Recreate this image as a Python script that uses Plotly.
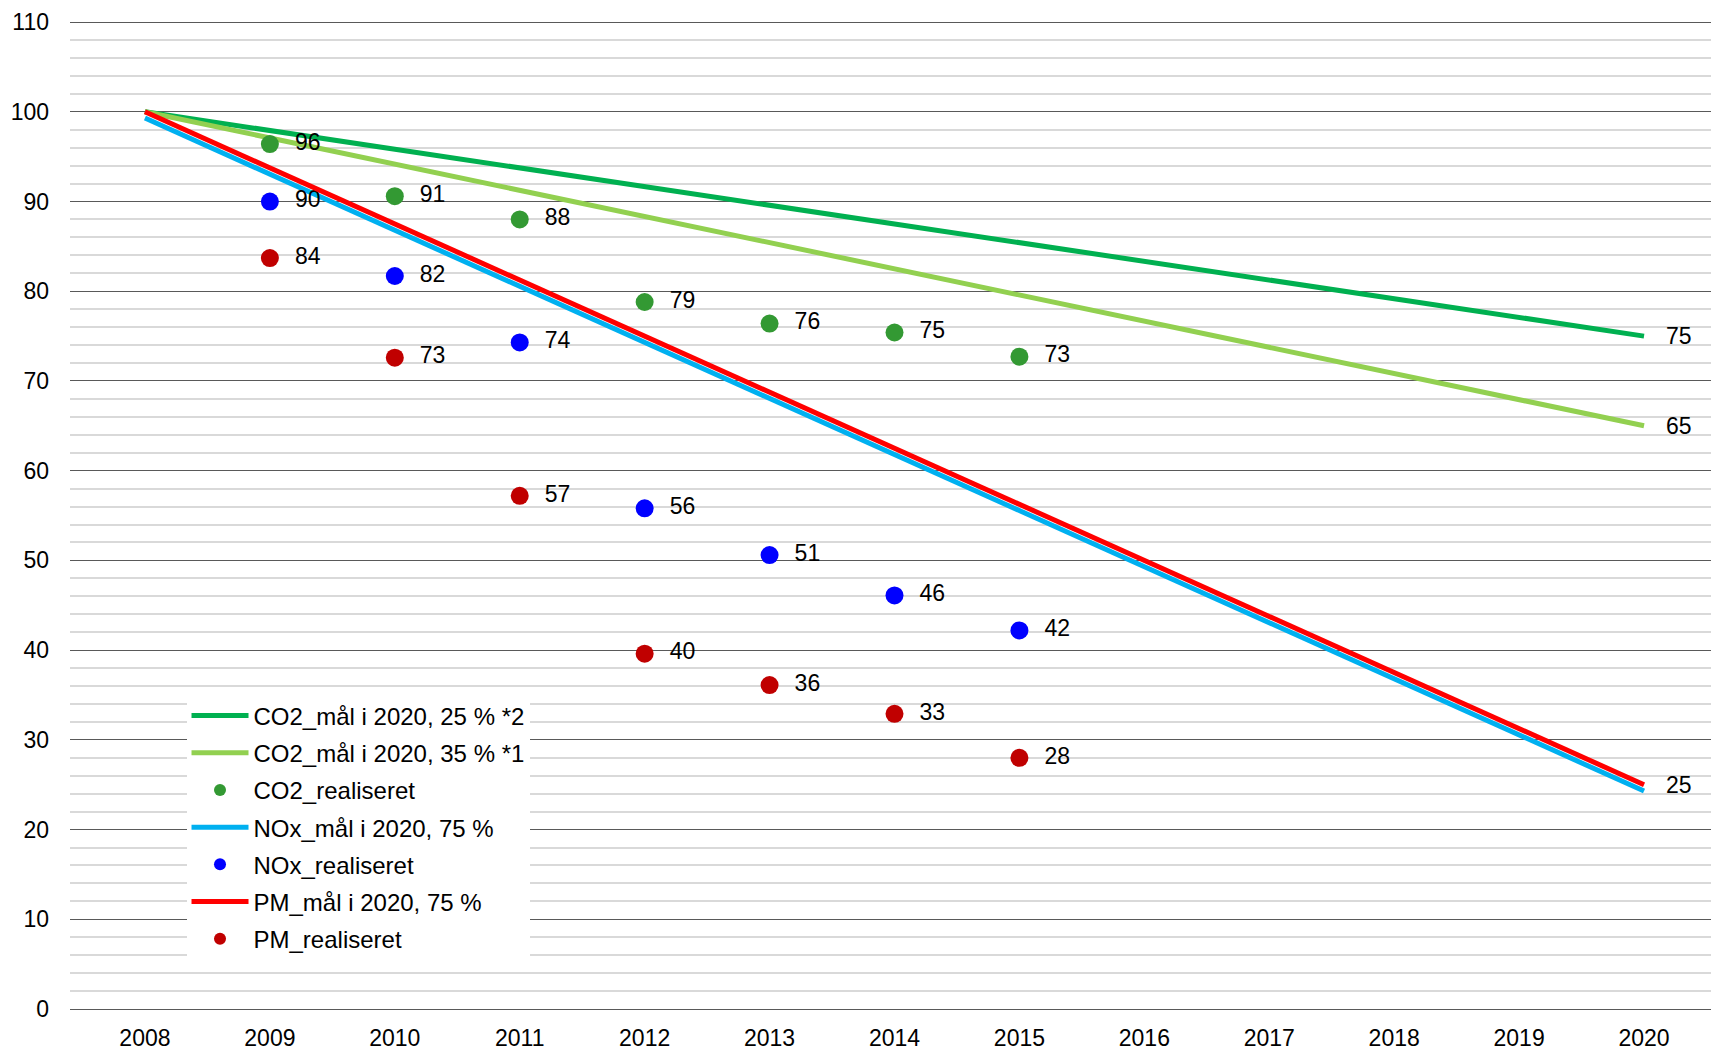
import plotly.graph_objects as go

# ---- data ----
target_years = [2008, 2020]
co2_goal_25 = [100, 75]
co2_goal_35 = [100, 65]
nox_goal = [99.3, 24.3]
pm_goal = [100, 25]

real_years = [2009, 2010, 2011, 2012, 2013, 2014, 2015]
co2_real = [96.4, 90.6, 88.0, 78.8, 76.4, 75.4, 72.7]
nox_real = [90.0, 81.7, 74.3, 55.8, 50.6, 46.1, 42.2]
pm_real = [83.7, 72.6, 57.2, 39.6, 36.1, 32.9, 28.0]

x_ticks = list(range(2008, 2021))

names = {
    "co2_25": "CO2_mål i 2020, 25 % *2",
    "co2_35": "CO2_mål i 2020, 35 % *1",
    "co2_real": "CO2_realiseret",
    "nox_goal": "NOx_mål i 2020, 75 %",
    "nox_real": "NOx_realiseret",
    "pm_goal": "PM_mål i 2020, 75 %",
    "pm_real": "PM_realiseret",
}

FONT = "Liberation Sans, Arial, sans-serif"
FS = 23

fig = go.Figure()

def line_trace(y, name, color, grp):
    fig.add_trace(go.Scatter(x=target_years, y=y, mode="lines", name=name,
                             legendgroup=grp,
                             line=dict(color=color, width=5), hoverinfo="skip"))

def dot_trace(y, name, color, grp):
    fig.add_trace(go.Scatter(x=real_years, y=y, mode="markers+text", name=name,
                             legendgroup=grp,
                             marker=dict(color=color, size=18),
                             texttemplate="  %{y:.0f}", textposition="middle right",
                             textfont=dict(family=FONT, size=FS, color="black"),
                             hoverinfo="skip"))

line_trace(co2_goal_25, names["co2_25"], "#00B050", "g1")
line_trace(co2_goal_35, names["co2_35"], "#92D050", "g2")
dot_trace(co2_real, names["co2_real"], "#339933", "g3")
line_trace(nox_goal, names["nox_goal"], "#00B0F0", "g4")
dot_trace(nox_real, names["nox_real"], "#0000FF", "g5")
line_trace(pm_goal, names["pm_goal"], "#FF0000", "g6")
dot_trace(pm_real, names["pm_real"], "#C00000", "g7")

# end labels for goal lines
for y in [co2_goal_25[-1], co2_goal_35[-1], pm_goal[-1]]:
    fig.add_annotation(x=target_years[-1], y=y, text=f"{y:.0f}", showarrow=False,
                       xanchor="left", yanchor="middle", xshift=20,
                       font=dict(family=FONT, size=FS, color="black"))

fig.update_layout(
    width=1711, height=1051,
    margin=dict(l=70, r=0, t=21, b=42),
    paper_bgcolor="white", plot_bgcolor="white",
    font=dict(family=FONT, size=FS, color="black"),
    showlegend=True,
    legend=dict(x=0.071, y=0.3194, xanchor="left", yanchor="top",
                bgcolor="white", borderwidth=0,
                font=dict(family=FONT, size=24, color="black"),
                itemwidth=57, itemsizing="constant", tracegroupgap=3,
                entrywidth=335,
                traceorder="grouped"),
)

fig.update_xaxes(range=[2007.4, 2020.536], tickmode="array", tickvals=x_ticks,
                 ticktext=[str(v) for v in x_ticks], showgrid=False, zeroline=False,
                 showline=False, ticks="", ticklabelstandoff=13,
                 tickfont=dict(family=FONT, size=FS, color="black"))
fig.update_yaxes(range=[0, 110.12], tickmode="linear", dtick=10, tick0=0, showgrid=True,
                 gridcolor="#595959", gridwidth=1,
                 zeroline=True, zerolinecolor="#595959", zerolinewidth=1,
                 showline=False, ticks="", ticklabelstandoff=20,
                 minor=dict(dtick=2, showgrid=True, gridcolor="#d9d9d9", gridwidth=2),
                 tickfont=dict(family=FONT, size=FS, color="black"))

fig.write_html("out.html", config={"displayModeBar": False},
               post_script="document.body.style.margin='0';")
